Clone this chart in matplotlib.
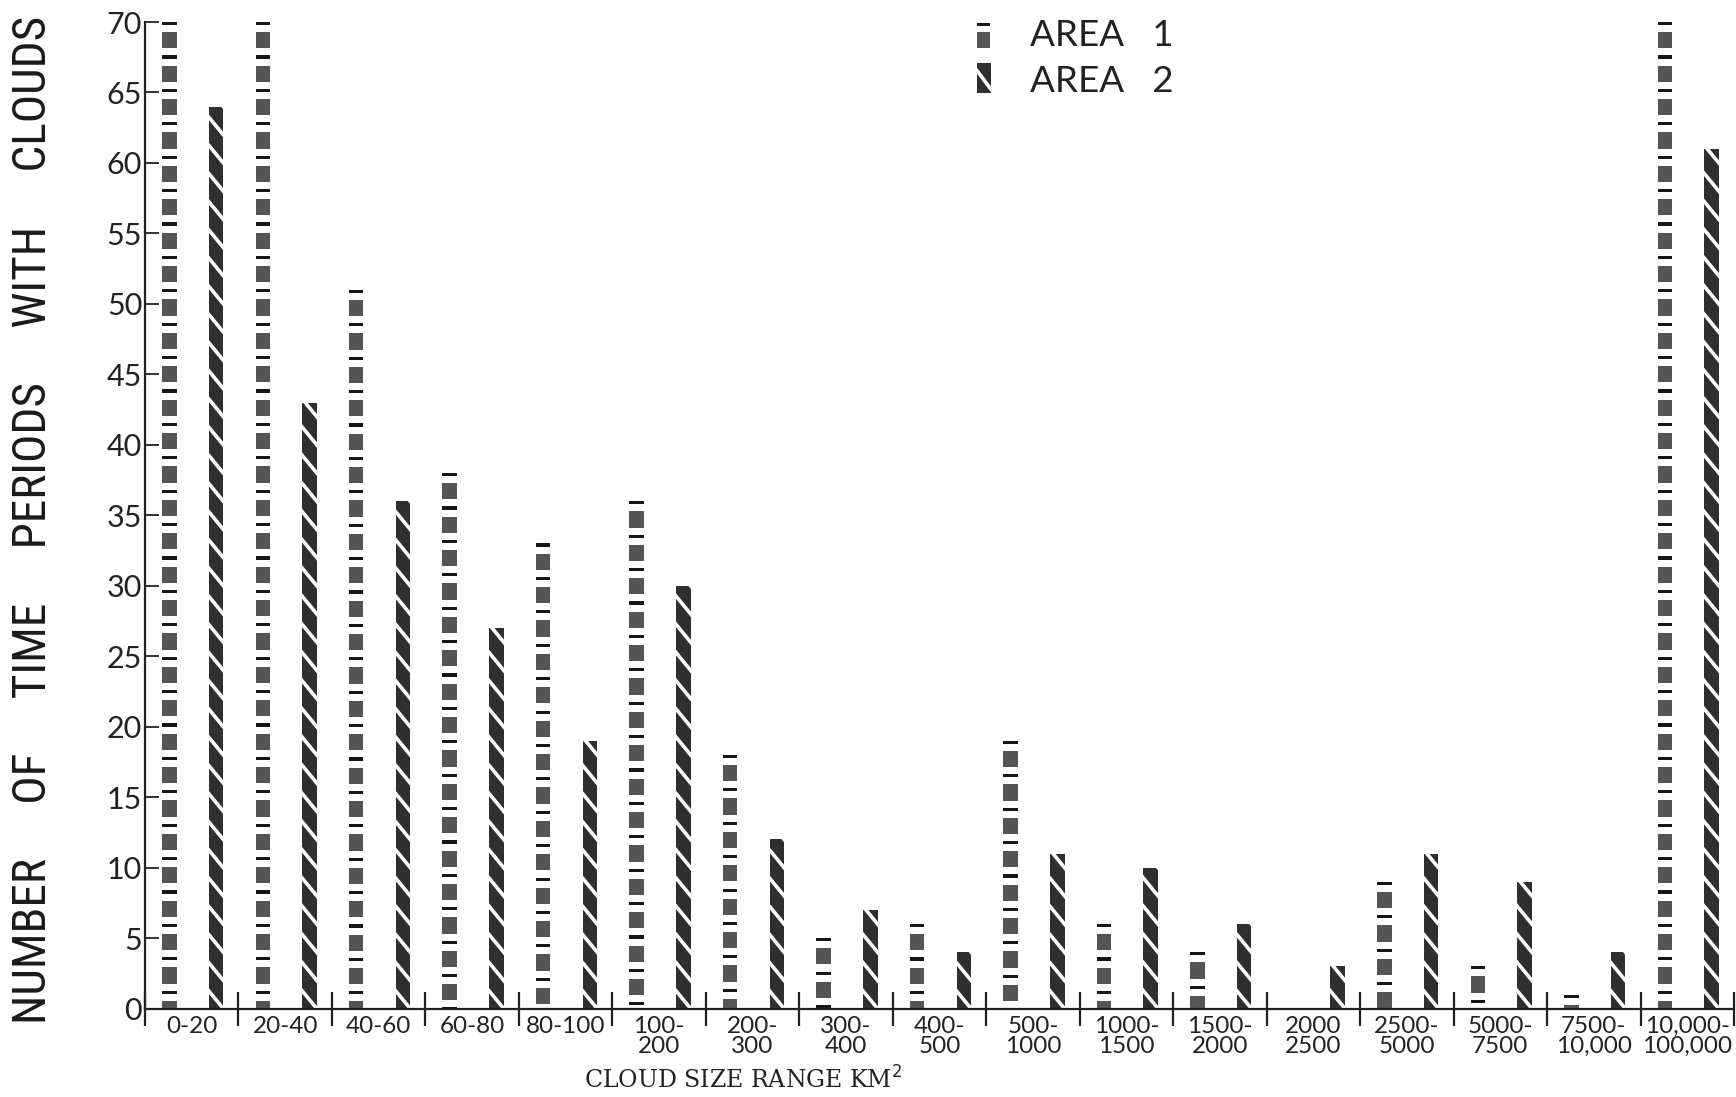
import matplotlib
matplotlib.use('Agg')
import matplotlib.pyplot as plt
from matplotlib import font_manager
from matplotlib.patches import Rectangle
from matplotlib.lines import Line2D
import numpy as np

categories = ["0-20", "20-40", "40-60", "60-80", "80-100", "100-\n200", "200-\n300",
              "300-\n400", "400-\n500", "500-\n1000", "1000-\n1500", "1500-\n2000",
              "2000\n2500", "2500-\n5000", "5000-\n7500", "7500-\n10,000", "10,000-\n100,000"]
area1 = [70, 70, 51, 38, 33, 36, 18, 5, 6, 19, 6, 4, 0, 9, 3, 1, 70]
area2 = [64, 43, 36, 27, 19, 30, 12, 7, 4, 11, 10, 6, 3, 11, 9, 4, 61]
y_ticks = list(range(0, 71, 5))
legend_labels = ["AREA   1", "AREA   2"]
ylabel = "NUMBER     OF     TIME     PERIODS     WITH     CLOUDS"
xlabel = "CLOUD SIZE RANGE KM$^{2}$"

available = {f.name for f in font_manager.fontManager.ttflist}
def pick(*names):
    for n in names:
        if n in available:
            return n
    return 'DejaVu Sans'
light = pick('Lato', 'Open Sans', 'Roboto')
narrow = pick('Liberation Sans Narrow', 'Roboto Condensed', 'DejaVu Sans')
serif = pick('DejaVu Serif', 'Liberation Serif')

W, H = 1736, 1097
fig = plt.figure(figsize=(W / 100, H / 100), dpi=100)
fig.patch.set_facecolor('white')
ax = fig.add_axes([145 / W, 1 - 1008.6 / H, 1589 / W, (1008.6 - 22) / H])

x = np.arange(len(categories))
w = 0.155
bars1 = ax.bar(x - 0.24, area1, w, color='none', edgecolor='none')
bars2 = ax.bar(x + 0.26, area2, w, color='#2f2f2f', edgecolor='none')

# Area 1 pattern: blocks alternating with thin dashes (from the top down)
P_dash, P_gap, P_block = 0.22, 0.5, 1.15
for p in bars1:
    h = p.get_height()
    if h <= 0:
        continue
    x0 = p.get_x()
    top = h
    while top > 0:
        r = Rectangle((x0, top - P_dash), w, P_dash, color='#161616', lw=0)
        ax.add_patch(r); r.set_clip_path(p)
        top -= P_dash + P_gap
        r = Rectangle((x0, top - P_block), w, P_block, color='#555555', lw=0)
        ax.add_patch(r); r.set_clip_path(p)
        top -= P_block + P_gap

# Area 2 pattern: white diagonal stripes
S, drop = 2.0, 1.25
for p in bars2:
    h = p.get_height()
    x0 = p.get_x()
    k = 0
    while k * S < h + drop:
        ln = Line2D([x0 - 0.02, x0 + w + 0.02], [k * S + drop * (1 + 0.02 / w), k * S - drop * 0.02 / w],
                    color='white', lw=2.6, solid_capstyle='butt')
        ax.add_line(ln); ln.set_clip_path(p)
        k += 1

ax.set_xlim(-0.5, len(categories) - 0.5)
ax.set_ylim(0, 70)
ax.set_yticks(y_ticks)
ax.set_yticklabels([str(v) for v in y_ticks], family=light, fontweight='normal', fontsize=22, color='#222')
ax.tick_params(axis='y', direction='in', length=10, width=1.3, pad=2, colors='#222')

ax.set_xticks(x)
ax.set_xticklabels(categories, family=light, fontweight='normal', fontsize=17.5, color='#222', linespacing=0.95)
ax.set_xticks(np.arange(-0.5, len(categories), 1), minor=True)
ax.tick_params(axis='x', which='major', length=0, pad=5)
ax.tick_params(axis='x', which='minor', direction='inout', length=24, width=1.6, color='#222')

for s in ['top', 'right']:
    ax.spines[s].set_visible(False)
for s in ['left', 'bottom']:
    ax.spines[s].set_linewidth(1.6)
    ax.spines[s].set_color('#222')

fig.text(33 / W, 1 - 520 / H, ylabel, rotation=90, family=narrow, fontsize=34,
         ha='center', va='center', color='#1a1a1a')
fig.text(743 / W, 1 - 1080 / H, xlabel, family=serif, fontsize=17,
         ha='center', va='center', color='#222')

# legend
def fx(px):
    return px / W
def fy(py):
    return 1 - py / H
fig.patches.append(Rectangle((fx(977), fy(26)), 13 / W, 3 / H, transform=fig.transFigure, color='#161616', lw=0))
fig.patches.append(Rectangle((fx(977), fy(48)), 13 / W, 16 / H, transform=fig.transFigure, color='#555555', lw=0))
leg2 = Rectangle((fx(977), fy(93)), 14 / W, 30 / H, transform=fig.transFigure, color='#2f2f2f', lw=0)
fig.patches.append(leg2)
ln = Line2D([fx(975), fx(993)], [fy(68), fy(92)], transform=fig.transFigure, color='white', lw=2.6)
fig.lines.append(ln); ln.set_clip_path(leg2)
fig.text(fx(1030), fy(36), legend_labels[0], family=light, fontweight='normal', fontsize=26.5, va='center', color='#222')
fig.text(fx(1030), fy(81), legend_labels[1], family=light, fontweight='normal', fontsize=26.5, va='center', color='#222')

fig.savefig('out.png', dpi=100, facecolor='white')
